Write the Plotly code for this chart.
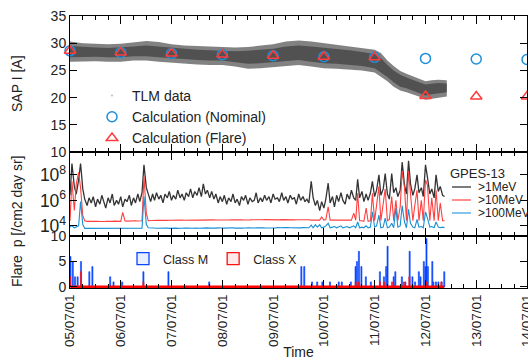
import pandas as pd
import plotly.graph_objects as go
from plotly.subplots import make_subplots

FONT = "Liberation Sans, Arial, sans-serif"

# ---------------- top panel: SAP current ----------------
calc_dates = ["2005-07-01", "2006-07-01", "2007-07-01", "2008-07-01", "2009-07-01",
              "2010-07-01", "2011-07-01", "2012-07-01", "2013-07-01", "2014-07-01"]
calc_nominal = [28.6, 28.3, 28.1, 27.9, 27.7, 27.5, 27.4, 27.2, 27.1, 27.0]
calc_flare = [28.6, 28.3, 28.1, 27.9, 27.7, 27.5, 27.4, 20.3, 20.2, 20.2]

tlm_dates = ["2005-07-01", "2005-10-01", "2006-01-01", "2006-04-01", "2006-07-01", "2006-10-01",
             "2007-01-01", "2007-04-01", "2007-07-01", "2007-10-01", "2008-01-01", "2008-04-01",
             "2008-07-01", "2008-10-01", "2009-01-01", "2009-04-01", "2009-07-01", "2009-10-01",
             "2010-01-01", "2010-04-01", "2010-07-01", "2010-10-01", "2011-01-01", "2011-04-01",
             "2011-07-01", "2011-08-15", "2011-10-01", "2011-11-15", "2012-01-01", "2012-02-15",
             "2012-04-01", "2012-05-15", "2012-07-01", "2012-08-15", "2012-10-01", "2012-12-01"]
# outer (sparser) envelope of the telemetry scatter
tlm_upper = [30.3, 30.0, 29.9, 29.8, 29.9, 30.1, 30.4, 30.2, 29.8, 29.6, 29.5, 29.4,
             29.3, 29.2, 29.3, 29.6, 29.8, 30.3, 30.5, 30.3, 30.0, 29.8, 29.5, 29.2,
             28.8, 28.2, 26.8, 25.8, 24.9, 24.4, 23.9, 23.5, 23.0, 23.2, 23.3, 23.2]
tlm_lower = [26.6, 26.7, 26.7, 26.6, 26.6, 26.8, 26.8, 26.6, 26.4, 26.2, 26.1, 26.0,
             26.0, 25.7, 25.3, 25.4, 25.6, 25.8, 26.0, 25.7, 25.4, 25.3, 25.1, 25.0,
             24.6, 23.8, 23.0, 22.0, 21.3, 21.0, 20.6, 20.2, 19.6, 19.8, 20.0, 20.2]
# dense core of the telemetry scatter
tlm_core_upper = [29.5, 29.3, 29.2, 29.1, 29.2, 29.4, 29.6, 29.4, 29.1, 28.9, 28.8, 28.7,
                  28.6, 28.5, 28.6, 28.8, 29.0, 29.4, 29.6, 29.4, 29.2, 29.0, 28.7, 28.4,
                  28.0, 27.3, 26.0, 25.0, 24.2, 23.7, 23.2, 22.8, 22.4, 22.6, 22.7, 22.6]
tlm_core_lower = [27.4, 27.5, 27.5, 27.4, 27.4, 27.6, 27.6, 27.4, 27.2, 27.0, 26.9, 26.8,
                  26.8, 26.5, 26.2, 26.3, 26.5, 26.7, 26.9, 26.6, 26.3, 26.2, 26.0, 25.8,
                  25.4, 24.6, 23.8, 22.8, 22.0, 21.7, 21.3, 20.9, 20.4, 20.6, 20.8, 21.0]

# ---------------- middle panel: proton flux (log10, semi-monthly samples) ----------------
flux_start = "2005-07-01"
flux_1mev_log10 = [
    6.4, 8.9, 7.1, 6.5, 7.6, 8.9, 6.9, 6.1,
    5.6, 6.2, 5.8, 6.3, 5.5, 6.1, 5.7, 6.4, 5.9, 5.4, 6.2, 5.8,
    6.5, 5.6, 6.0, 5.7, 6.3, 5.5, 6.1, 5.9, 6.4, 5.6, 6.2, 5.8,
    6.5, 5.9, 6.6,
    8.8, 7.0, 6.4,
    5.9, 6.5, 6.0, 6.6, 6.1, 6.4, 5.8, 6.5, 6.2, 6.7, 6.0, 6.4,
    6.1, 6.8, 6.2, 6.5, 6.0, 6.6, 6.3, 6.9, 6.2, 6.7, 6.4, 7.0,
    6.3, 7.3, 6.5, 6.8, 6.2, 6.7, 6.1, 6.5,
    5.8, 6.3, 5.9, 6.4, 5.7, 6.2, 5.9, 6.5, 5.8, 6.1, 5.6, 6.3,
    6.0, 6.4, 5.7, 6.2, 5.9, 6.0, 6.6, 5.8, 6.2, 5.9, 6.4, 6.0,
    6.3, 5.8, 6.5, 6.1, 6.2, 5.9, 6.6, 6.0, 6.3, 5.8, 6.4, 6.1,
    6.2, 5.7, 6.5, 6.0, 6.3, 5.9, 6.1, 5.8,
    7.5, 6.2, 5.6, 6.0, 5.2, 5.9, 5.4, 6.1, 7.35, 5.8, 6.3, 5.5,
    6.4, 5.9, 6.6, 6.0, 5.7, 6.5, 6.1, 6.8, 6.2, 6.0,
    7.66, 6.2, 6.7, 5.9, 6.5, 6.0, 6.6, 7.5, 6.3, 6.8, 8.0, 6.4,
    6.9, 8.1, 6.5, 6.1, 8.1, 6.6, 7.0, 6.3, 6.8, 9.0, 7.2, 6.5,
    9.1, 7.3, 6.4, 6.9, 8.0, 6.6, 7.0, 6.3, 8.8, 7.8, 6.5, 6.9,
    6.2, 8.0, 6.7, 7.1, 6.4, 6.3,
]
flux_10mev_log10 = [
    4.4, 7.5, 5.2, 7.3, 8.2, 7.0, 4.8, 4.4,
    4.35, 4.36, 4.34, 4.35, 4.37, 4.35, 4.34, 4.36, 4.35, 4.35, 4.36, 4.34,
    4.35, 4.37, 4.35, 4.36, 4.35,
    5.05,
    4.38, 4.37, 4.39, 4.38, 4.38, 4.40, 4.38, 4.39, 4.40,
    7.9, 5.0, 4.4,
    4.42, 4.43, 4.42, 4.44, 4.43, 4.42, 4.44, 4.45, 4.43, 4.44, 4.45, 4.44,
    4.45, 4.44, 4.46, 4.45, 4.44, 4.45, 4.46, 4.45, 4.44, 4.46, 4.45, 4.45,
    4.46, 4.45, 4.47, 4.46, 4.45, 4.46, 4.47, 4.46, 4.45, 4.47, 4.46, 4.46,
    4.47, 4.46, 4.47, 4.48, 4.46, 4.47, 4.48, 4.47, 4.46, 4.48, 4.47, 4.47,
    4.48, 4.47, 4.48, 4.49, 4.47, 4.48, 4.49, 4.48, 4.47, 4.49, 4.48, 4.48,
    4.48, 4.47, 4.49, 4.48, 4.47, 4.48, 4.49, 4.48, 4.47, 4.48, 4.49, 4.48,
    4.47, 4.48, 4.47, 4.48,
    4.45, 4.45, 4.45, 4.5, 4.45, 4.7, 4.45, 4.5, 5.5, 4.45, 4.45, 4.5,
    4.45, 4.45, 4.5, 4.45, 4.45, 4.5, 4.45, 4.45, 5.0, 4.45,
    6.55, 4.4, 4.4, 4.35, 5.4, 4.35, 4.4, 6.55, 4.4, 5.6, 7.1, 4.4,
    5.8, 6.9, 4.4, 4.5, 6.3, 4.4, 6.0, 4.4, 5.5, 8.3, 7.0, 4.4,
    8.3, 6.5, 4.4, 5.6, 6.8, 4.4, 6.0, 4.4, 7.6, 7.2, 4.4, 6.2,
    4.4, 6.8, 4.4, 5.8, 4.4, 4.4,
]
flux_100mev_log10 = [
    3.9, 4.0, 3.85, 3.9, 4.0, 5.9, 4.1, 3.8,
    3.80, 3.82, 3.79, 3.81, 3.80, 3.83, 3.80, 3.79, 3.81, 3.80, 3.82, 3.80,
    3.79, 3.81, 3.80, 3.82, 3.80, 3.81, 3.79, 3.80, 3.82, 3.80, 3.81, 3.79,
    3.80, 3.82, 3.81,
    6.3, 4.1, 3.85,
    3.82, 3.80, 3.83, 3.81, 3.82, 3.80, 3.82, 3.81, 3.83, 3.80, 3.82, 3.81,
    3.82, 3.80, 3.83, 3.81, 3.82, 3.84, 3.82, 3.81, 3.83, 3.80, 3.82, 3.81,
    3.83, 3.81, 3.82, 3.84, 3.82, 3.81, 3.83, 3.82, 3.84, 3.81, 3.83, 3.82,
    3.84, 3.82, 3.83, 3.85, 3.82, 3.84, 3.83, 3.82, 3.85, 3.83, 3.84, 3.82,
    3.85, 3.83, 3.84, 3.86, 3.83, 3.85, 3.84, 3.83, 3.86, 3.84, 3.85, 3.83,
    3.86, 3.84, 3.85, 3.87, 3.84, 3.86, 3.85, 3.84, 3.87, 3.85, 3.86, 3.84,
    3.86, 3.85, 3.87, 3.85,
    4.05, 3.85, 4.1, 3.9, 4.1, 3.85, 3.9, 4.0, 4.2, 3.85, 3.9, 3.95,
    3.85, 3.9, 4.0, 3.85, 3.9, 3.95, 3.85, 3.9, 4.0, 3.85,
    4.3, 3.85, 3.9, 3.85, 4.0, 3.85, 3.9, 5.1, 3.9, 4.0, 4.85, 3.85,
    3.9, 4.6, 3.85, 3.9, 4.2, 3.85, 5.4, 3.9, 4.0, 5.6, 4.3, 3.85,
    5.3, 4.2, 3.9, 3.85, 4.5, 3.9, 3.95, 3.85, 5.1, 4.6, 3.9, 3.95,
    3.85, 4.3, 3.9, 3.85, 3.9, 3.85,
]
flux_names = [">1MeV", ">10MeV", ">100MeV"]
flux_legend_title = "GPES-13"

# ---------------- bottom panel: flare counts ----------------
m_dates = ["2005-07-04", "2005-07-21", "2005-08-06", "2005-08-25", "2005-09-18", "2005-11-17",
           "2005-12-09", "2006-04-16", "2006-05-10", "2006-07-11", "2006-12-11", "2007-06-09",
           "2008-03-28", "2010-01-20", "2010-02-10", "2010-04-07", "2010-05-14", "2010-06-20",
           "2010-08-14", "2010-10-16", "2010-11-07", "2011-01-11", "2011-02-14", "2011-02-24",
           "2011-03-10", "2011-03-28", "2011-04-29", "2011-06-04", "2011-08-08", "2011-09-06",
           "2011-09-22", "2011-10-02", "2011-11-15", "2011-11-27", "2012-01-13", "2012-02-07",
           "2012-03-09", "2012-03-29", "2012-04-17", "2012-05-14", "2012-05-26", "2012-06-19",
           "2012-07-01", "2012-07-08", "2012-07-18", "2012-08-19", "2012-08-26", "2012-09-14",
           "2012-10-02", "2012-10-25", "2012-11-13"]
m_counts = [6, 5, 2, 2, 5, 3, 4, 2, 1, 1, 3, 3,
            1, 4, 4, 1, 1, 1, 1, 1, 1, 1, 4, 5,
            7, 4, 2, 1, 3, 2, 4, 8, 2, 3, 2, 1,
            7, 2, 1, 3, 2, 5, 4, 9.5, 4, 5, 1, 1,
            1, 1, 3]
x_dates = ["2005-07-02", "2005-09-18", "2006-12-11", "2011-02-15", "2011-03-09", "2011-08-09",
           "2011-09-07", "2011-11-03", "2012-01-27", "2012-03-07", "2012-07-08", "2012-10-23"]
x_counts = [2, 3, 1, 1, 1, 1, 1, 1, 1, 2, 1, 1]


def px_x(p):  # pixel column -> paper x
    return (p - 70) / 457.0


def px_y(p):  # pixel row -> paper y
    return (288 - p) / 272.0


# ---------------- figure ----------------
flux_dates = pd.date_range(flux_start, periods=len(flux_1mev_log10), freq="SMS")
fig = make_subplots(rows=3, cols=1, shared_xaxes=True, vertical_spacing=0,
                    row_heights=[0.5, 0.309, 0.191])

band_line = dict(width=0, color="rgba(0,0,0,0)")
fig.add_trace(go.Scatter(x=tlm_dates, y=tlm_lower, mode="lines", line=band_line,
                         showlegend=False, hoverinfo="skip"), row=1, col=1)
fig.add_trace(go.Scatter(x=tlm_dates, y=tlm_upper, mode="lines", line=band_line, fill="tonexty",
                         fillcolor="rgba(95,95,95,0.78)", showlegend=False, hoverinfo="skip"),
              row=1, col=1)
fig.add_trace(go.Scatter(x=tlm_dates, y=tlm_core_lower, mode="lines", line=band_line,
                         showlegend=False, hoverinfo="skip"), row=1, col=1)
fig.add_trace(go.Scatter(x=tlm_dates, y=tlm_core_upper, mode="lines", line=band_line, fill="tonexty",
                         fillcolor="rgba(60,60,60,0.7)", showlegend=False, hoverinfo="skip"),
              row=1, col=1)
fig.add_trace(go.Scatter(x=[None], y=[None], mode="markers", name="TLM data",
                         marker=dict(size=1, color="rgba(120,120,120,0.5)"), legend="legend"), row=1, col=1)
fig.add_trace(go.Scatter(x=calc_dates, y=calc_nominal, mode="markers", name="Calculation (Nominal)",
                         marker=dict(symbol="circle-open", size=10, color="#1c8fd8", line=dict(width=1.5)),
                         cliponaxis=False, legend="legend"), row=1, col=1)
fig.add_trace(go.Scatter(x=calc_dates, y=calc_flare, mode="markers", name="Calculation (Flare)",
                         marker=dict(symbol="triangle-up-open", size=10, color="#ff3b3b", line=dict(width=1.5)),
                         cliponaxis=False, legend="legend"), row=1, col=1)

# proton flux lines
flux_series = [flux_1mev_log10, flux_10mev_log10, flux_100mev_log10]
flux_colors = ["#333333", "#ff4040", "#1a8fd4"]
flux_widths = [1.3, 1.1, 1.1]
flux_key_colors = ["#505050", "#ff6a6a", "#5ab2e6"]
for vals, name, col, w in zip(flux_series, flux_names, flux_colors, flux_widths):
    fig.add_trace(go.Scatter(x=flux_dates, y=[10 ** v for v in vals], mode="lines", name=name,
                             line=dict(color=col, width=w), showlegend=False), row=2, col=1)

# flare counts
bar_w = 8 * 24 * 3600 * 1000
fig.add_trace(go.Scatter(x=[m_dates[0], m_dates[-1]], y=[0, 0], mode="lines",
                         line=dict(color="#ff0000", width=3), showlegend=False, hoverinfo="skip"), row=3, col=1)
fig.add_trace(go.Bar(x=m_dates, y=m_counts, name="Class M", width=bar_w, legendgroup="M", showlegend=False,
                     marker=dict(color="#0a46ff", line=dict(color="#0a46ff", width=0.6))), row=3, col=1)
fig.add_trace(go.Bar(x=x_dates, y=x_counts, name="Class X", width=bar_w, legendgroup="X", showlegend=False,
                     marker=dict(color="#ff1010", line=dict(color="#ff1010", width=0.6))), row=3, col=1)
fig.add_trace(go.Bar(x=[None], y=[None], name="Class M", legendgroup="M", legend="legend3",
                     marker=dict(color="#e6eeff", line=dict(color="#0a46ff", width=1.3))), row=3, col=1)
fig.add_trace(go.Bar(x=[None], y=[None], name="Class X", legendgroup="X", legend="legend3",
                     marker=dict(color="#ffe8e8", line=dict(color="#ff1010", width=1.3))), row=3, col=1)

axis_common = dict(showline=True, linecolor="black", linewidth=1, mirror="ticks", automargin=False,
                   ticks="inside", tickcolor="black", showgrid=False, zeroline=False)

for r in (1, 2, 3):
    fig.update_xaxes(type="date", range=["2005-07-01", "2014-07-01"], tick0="2005-07-01", dtick="M12",
                     ticklen=8, minor=dict(dtick="M3", ticks="inside", ticklen=4, tickcolor="black"),
                     showticklabels=(r == 3), **axis_common, row=r, col=1)
fig.update_xaxes(tickformat="%y/%m/%d", tickangle=-90, tickfont=dict(size=13.5), ticklabeloverflow="allow",
                 title=dict(text="Time", font=dict(size=14), standoff=9), row=3, col=1)

fig.update_yaxes(range=[10, 35], dtick=5, ticklen=7, tickfont=dict(size=14), **axis_common, row=1, col=1)
fig.update_yaxes(type="log", range=[3.2, 9.8], dtick=2, exponentformat="power", ticklen=7,
                 tickfont=dict(size=14), **axis_common, row=2, col=1)
fig.update_yaxes(range=[-0.2, 10], tickvals=[0, 5, 10], ticklen=7, tickfont=dict(size=14),
                 **axis_common, row=3, col=1)

# GPES-13 key (drawn beside the middle panel, clipped by the page edge like the original)
shapes = []
annotations = [
    dict(text="SAP I [A]", xref="paper", yref="paper", x=px_x(17), y=px_y(84), textangle=-90,
         showarrow=False, font=dict(size=14), xanchor="center", yanchor="middle"),
    dict(text="Flare\u00a0\u00a0p [/cm2 day sr]", xref="paper", yref="paper", x=px_x(17), y=px_y(222),
         textangle=-90, showarrow=False, font=dict(size=14), xanchor="center", yanchor="middle"),
    dict(text=flux_legend_title, xref="paper", yref="paper", x=px_x(448), y=px_y(174), showarrow=False,
         font=dict(size=13), xanchor="left", yanchor="middle"),
]
for k, (name, kc) in enumerate(zip(flux_names, flux_key_colors)):
    row_y = 187 + 13 * k
    shapes.append(dict(type="line", xref="paper", yref="paper", x0=px_x(452), x1=px_x(471),
                       y0=px_y(row_y), y1=px_y(row_y), line=dict(color=kc, width=1.5)))
    annotations.append(dict(text=name, xref="paper", yref="paper", x=px_x(476), y=px_y(row_y),
                            showarrow=False, font=dict(size=12), xanchor="left", yanchor="middle"))

fig.update_layout(
    width=528, height=360,
    margin=dict(l=70, r=1, t=16, b=72),
    paper_bgcolor="white", plot_bgcolor="white",
    font=dict(family=FONT, size=14, color="#222"),
    barmode="overlay",
    legend=dict(x=px_x(92), y=px_y(80), xanchor="left", yanchor="top", bgcolor="rgba(0,0,0,0)",
                traceorder="normal", font=dict(size=14)),
    legend3=dict(x=px_x(123), y=px_y(244), xanchor="left", yanchor="top", orientation="h",
                 traceorder="normal", bgcolor="rgba(0,0,0,0)", font=dict(size=12.5)),
    shapes=shapes,
    annotations=annotations,
)

fig.write_html("out.html")
